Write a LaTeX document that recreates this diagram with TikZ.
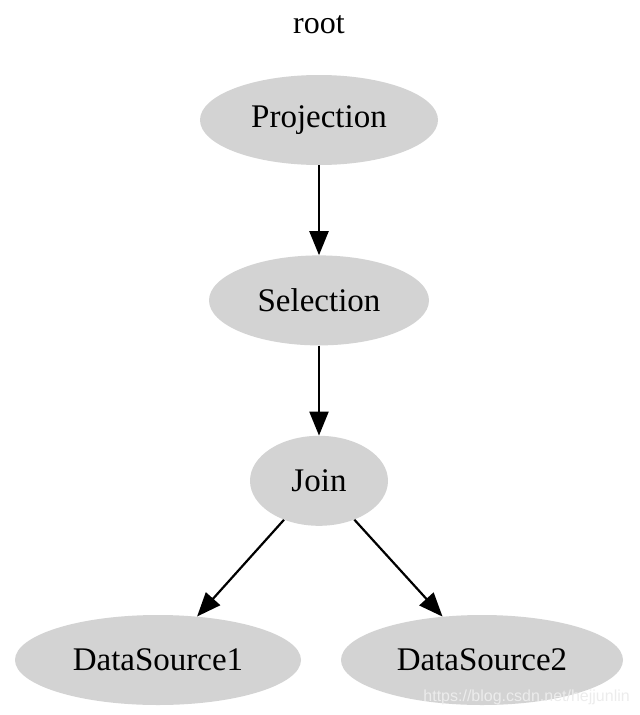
\documentclass[tikz,border=0pt]{standalone}
\usepackage{fontspec}
\setmainfont{Liberation Serif}
\newfontfamily\wmfont{Liberation Sans}
\usetikzlibrary{shapes.geometric,arrows.meta,positioning}
\definecolor{nodegray}{RGB}{211,211,211}
\definecolor{markgray}{RGB}{236,236,236}

\begin{document}
\begin{tikzpicture}[
    x=1pt, y=-1pt,
    node distance=90pt,
    opnode/.style={ellipse, fill=nodegray, draw=none, inner sep=0pt,
                   minimum height=90pt, font=\fontsize{33}{40}\selectfont},
    arr/.style={-{Triangle[length=24pt,width=19pt]}, line width=2.2pt, black}
]
\useasboundingbox (0,0) rectangle (640,715);

\node[font=\fontsize{32}{38}\selectfont] (title) at (319,25) {root};
\node[opnode, minimum width=238pt] (proj) at (319,120) {Projection};
\node[opnode, minimum width=220pt, below=of proj] (sel) {Selection};
\node[opnode, minimum width=138pt, below=of sel] (join) {Join};
\node[opnode, minimum width=286pt] (ds1) at (158,660) {DataSource1};
\node[opnode, minimum width=282pt] (ds2) at (482,660) {DataSource2};

\draw[arr] (proj) -- (sel);
\draw[arr] (sel) -- (join);
\draw[arr] (join) -- (ds1);
\draw[arr] (join) -- (ds2);

% watermark
\node[font=\wmfont\fontsize{16}{19}\selectfont, text=markgray, anchor=east, inner sep=0pt] (mark) at (630,697) {https://blog.csdn.net/hejjunlin};
\end{tikzpicture}
\end{document}
